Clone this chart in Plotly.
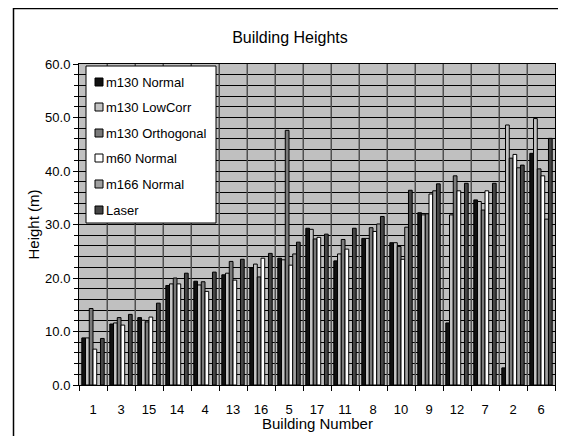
import plotly.graph_objects as go

buildings = ["1", "3", "15", "14", "4", "13", "16", "5", "17", "11", "8", "10", "9", "12", "7", "2", "6"]
m130_normal = [8.8, 11.4, 12.6, 18.6, 19.4, 20.6, 21.9, 23.7, 29.3, 23.2, 27.4, 26.6, 32.2, 11.6, 34.6, 3.2, 43.3]
m130_lowcorr = [8.8, 11.6, 12.1, 18.9, 18.7, 20.9, 22.6, 23.4, 29.1, 24.5, 27.4, 26.6, 31.8, 31.8, 34.3, 48.6, 49.8]
m130_orthogonal = [14.3, 12.6, 11.8, 20.0, 19.3, 23.1, 20.2, 47.6, 27.3, 27.2, 29.4, 25.9, 32.0, 39.1, 32.7, 42.4, 40.4]
m60_normal = [6.7, 11.2, 12.7, 18.9, 17.5, 19.6, 23.7, 22.4, 27.6, 25.4, 28.7, 23.5, 35.7, 36.3, 36.3, 43.1, 39.1]
m166_normal = [None, None, None, None, None, None, None, 24.5, None, None, 30.1, 29.5, 36.3, None, None, 40.6, 31.0]
laser = [8.7, 13.2, 15.3, 20.9, 21.1, 23.5, 24.6, 26.7, 28.2, 29.3, 31.5, 36.4, 37.6, 37.7, 37.7, 41.1, 46.1]

series_names = ["m130 Normal", "m130 LowCorr", "m130 Orthogonal", "m60 Normal", "m166 Normal", "Laser"]
series_values = [m130_normal, m130_lowcorr, m130_orthogonal, m60_normal, m166_normal, laser]
series_colors = ["#111111", "#C4C4C4", "#7A7A7A", "#FFFFFF", "#A0A0A0", "#454545"]

font = "Liberation Sans, Arial, sans-serif"
# page has an 8px body margin; figure coords = screen coords - 8
OFF = 8
W, H = 558, 428
L, R, T, B = 79 - OFF, 555 - OFF, 64 - OFF, 385 - OFF


def px(s):
    return (s - OFF - L) / (R - L)


def py(s):
    return (B - (s - OFF)) / (B - T)


fig = go.Figure()
for name, vals, col in zip(series_names, series_values, series_colors):
    fig.add_trace(go.Bar(
        x=buildings, y=vals, name=name, showlegend=False,
        marker=dict(color=col, line=dict(color="black", width=1)),
    ))

fig.update_layout(
    width=W, height=H,
    margin=dict(l=L, r=W - R, t=T, b=H - B, pad=0),
    paper_bgcolor="white",
    plot_bgcolor="#C0C0C0",
    barmode="group",
    bargap=0.2,
    bargroupgap=0,
    font=dict(family=font, size=13, color="black"),
    title=dict(text="Building Heights", x=(290 - OFF) / W, xanchor="center",
               y=1 - (37 - OFF) / H, yanchor="middle", yref="container",
               font=dict(family=font, size=16, color="black")),
    showlegend=False,
)

fig.update_xaxes(
    type="category",
    range=[-0.5, len(buildings) - 0.5],
    automargin=False,
    tickson="boundaries",
    ticks="outside", ticklen=5, tickcolor="black",
    showgrid=True, gridcolor="#505050", gridwidth=1,
    showline=True, linecolor="black", linewidth=1, mirror=True,
    tickfont=dict(family=font, size=13, color="black"),
    ticklabelstandoff=12,
)

fig.update_yaxes(
    range=[0, 60],
    automargin=False,
    tickvals=[0, 10, 20, 30, 40, 50, 60],
    ticktext=["0.0", "10.0", "20.0", "30.0", "40.0", "50.0", "60.0"],
    ticks="outside", ticklen=5, tickcolor="black",
    showgrid=True, gridcolor="black", gridwidth=1,
    minor=dict(dtick=2, showgrid=True, gridcolor="black", gridwidth=1,
               ticks="outside", ticklen=4, tickcolor="black"),
    showline=True, linecolor="black", linewidth=1, mirror=True,
    zeroline=False,
    tickfont=dict(family=font, size=13, color="black"),
    ticklabelstandoff=0,
    title=dict(text="Height (m)", standoff=1,
               font=dict(family=font, size=15, color="black")),
)

# x-axis title placed as text below the tick labels
fig.add_annotation(text="Building Number", xref="paper", yref="paper",
                   x=px(317), y=py(424), xanchor="center", yanchor="middle",
                   showarrow=False, font=dict(family=font, size=15, color="black"))

# vertical gridlines at category boundaries (they fall in the gaps between groups)
n = len(buildings)
for i in range(1, n):
    fig.add_shape(type="line", xref="paper", yref="paper",
                  x0=i / n, x1=i / n, y0=0, y1=1, layer="above",
                  line=dict(color="#505050", width=1))

# outer chart border (left and top)
fig.add_shape(type="line", xref="paper", yref="paper",
              x0=px(13), x1=px(566), y0=py(8.5), y1=py(8.5),
              line=dict(color="black", width=1.5))
fig.add_shape(type="line", xref="paper", yref="paper",
              x0=px(13.5), x1=px(13.5), y0=py(8), y1=py(436),
              line=dict(color="black", width=1.5))

# legend box
lg_left, lg_right, lg_top, lg_bottom = 86, 216, 66, 223
fig.add_shape(type="rect", xref="paper", yref="paper",
              x0=px(lg_left), x1=px(lg_right), y0=py(lg_top), y1=py(lg_bottom),
              fillcolor="white", line=dict(color="black", width=1), layer="above")
item_y = [82, 107, 133, 158, 184, 210]
for name, col, yc in zip(series_names, series_colors, item_y):
    fig.add_shape(type="rect", xref="paper", yref="paper",
                  x0=px(95), x1=px(103), y0=py(yc - 4), y1=py(yc + 4),
                  fillcolor=col, line=dict(color="black", width=1), layer="above")
    fig.add_annotation(text=name, xref="paper", yref="paper",
                       x=px(104), y=py(yc), xanchor="left", yanchor="middle",
                       showarrow=False,
                       font=dict(family=font, size=13, color="black"))

fig.write_html("out.html")
